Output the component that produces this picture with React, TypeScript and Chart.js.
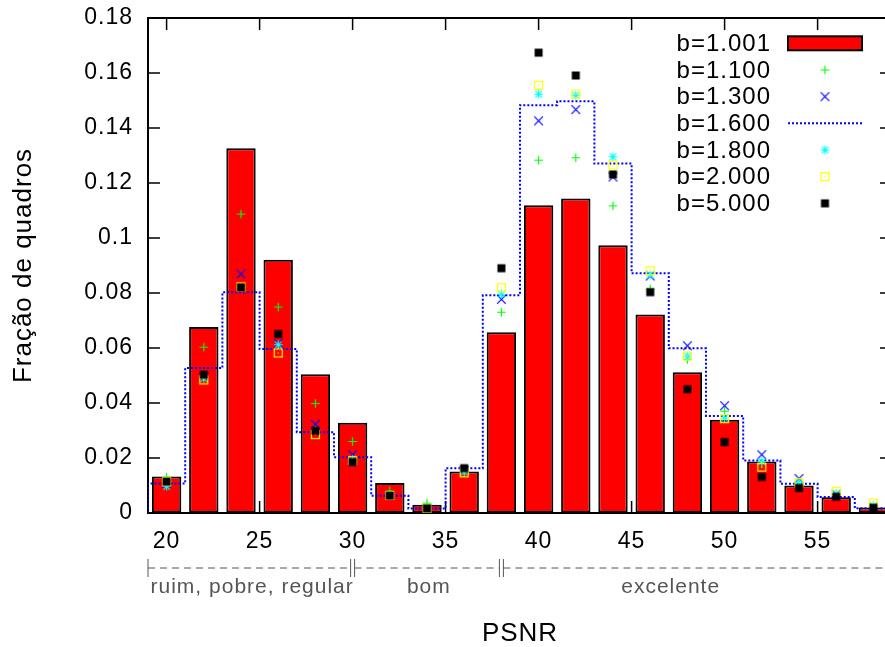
import React, { useEffect, useRef } from "react";
import { Chart, registerables } from "chart.js";

Chart.register(...registerables);

// ---------- data ----------
const psnrBins = [20, 22, 24, 26, 28, 30, 32, 34, 36, 38, 40, 42, 44, 46, 48, 50, 52, 54, 56, 58];
const binHalfWidth = 1;

const b1001 = [0.0133, 0.0676, 0.1326, 0.0921, 0.0505, 0.0328, 0.0109, 0.0030, 0.0151, 0.0657, 0.1119, 0.1144, 0.0974, 0.0722, 0.0512, 0.0339, 0.0187, 0.0100, 0.0057, 0.0020];
const b1100 = [0.0130, 0.0603, 0.1087, 0.0749, 0.0398, 0.0260, 0.0080, 0.0036, 0.0148, 0.0730, 0.1283, 0.1292, 0.1117, 0.0815, 0.0558, 0.0370, 0.0180, 0.0105, 0.0068, 0.0025];
const b1300 = [0.0108, 0.0495, 0.0869, 0.0617, 0.0323, 0.0212, 0.0065, 0.0016, 0.0155, 0.0777, 0.1426, 0.1467, 0.1222, 0.0862, 0.0608, 0.0390, 0.0212, 0.0125, 0.0068, 0.0022];
const b1600 = [0.0107, 0.0527, 0.0803, 0.0596, 0.0294, 0.0203, 0.0063, 0.0016, 0.0163, 0.0792, 0.1483, 0.1497, 0.1271, 0.0872, 0.0599, 0.0353, 0.0191, 0.0106, 0.0058, 0.0017];
const b1800 = [0.0097, 0.0490, 0.0820, 0.0612, 0.0300, 0.0195, 0.0063, 0.0016, 0.0150, 0.0796, 0.1523, 0.1519, 0.1295, 0.0866, 0.0570, 0.0345, 0.0187, 0.0110, 0.0070, 0.0025];
const b2000 = [0.0115, 0.0484, 0.0822, 0.0582, 0.0285, 0.0190, 0.0064, 0.0017, 0.0146, 0.0819, 0.1555, 0.1523, 0.1265, 0.0881, 0.0571, 0.0343, 0.0167, 0.0110, 0.0079, 0.0036];
const b5000 = [0.0114, 0.0503, 0.0820, 0.0651, 0.0299, 0.0185, 0.0063, 0.0017, 0.0163, 0.0890, 0.1674, 0.1591, 0.1231, 0.0803, 0.0450, 0.0258, 0.0131, 0.0091, 0.0059, 0.0019];

const seriesNames = ["b=1.001", "b=1.100", "b=1.300", "b=1.600", "b=1.800", "b=2.000", "b=5.000"];

const xTickValues = [20, 25, 30, 35, 40, 45, 50, 55];
const xTickLabels = ["20", "25", "30", "35", "40", "45", "50", "55"];
const yTickValues = [0, 0.02, 0.04, 0.06, 0.08, 0.1, 0.12, 0.14, 0.16, 0.18];
const yTickLabels = ["0", "0.02", "0.04", "0.06", "0.08", "0.1", "0.12", "0.14", "0.16", "0.18"];

const xTitle = "PSNR";
const yTitle = "Fração de quadros";

const qualityLabels = ["ruim, pobre, regular", "bom", "excelente"];
const qualityBounds = [19, 30, 38, 59];
const qualityLabelCenters = [24.6, 34.1, 47.1];

const X_MIN = 19;
const X_MAX = 59;
const Y_MIN = 0;
const Y_MAX = 0.18;

const FONT = "'Liberation Sans', Arial, Helvetica, sans-serif";

// ---------- markers ----------
function makeMarker(kind: string, color: string): HTMLCanvasElement {
  const c = document.createElement("canvas");
  c.width = 13;
  c.height = 13;
  const g = c.getContext("2d")!;
  const m = 6.5;
  g.strokeStyle = color;
  g.fillStyle = color;
  g.lineWidth = 1.2;
  if (kind === "plus" || kind === "star") {
    const r = 4.3;
    g.beginPath();
    g.moveTo(m - r, m);
    g.lineTo(m + r, m);
    g.moveTo(m, m - r);
    g.lineTo(m, m + r);
    g.stroke();
  }
  if (kind === "cross" || kind === "star") {
    const r = kind === "star" ? 3.3 : 4.3;
    g.beginPath();
    g.moveTo(m - r, m - r);
    g.lineTo(m + r, m + r);
    g.moveTo(m - r, m + r);
    g.lineTo(m + r, m - r);
    g.stroke();
  }
  if (kind === "box") {
    const r = 4;
    g.strokeRect(m - r, m - r, 2 * r, 2 * r);
    g.fillRect(m - 0.6, m - 0.6, 1.2, 1.2);
  }
  if (kind === "fbox") {
    const r = 4;
    g.fillRect(m - r, m - r, 2 * r, 2 * r);
  }
  return c;
}

export default function App() {
  const ref = useRef<HTMLCanvasElement | null>(null);

  useEffect(() => {
    const canvas = ref.current;
    if (!canvas) return;

    const mPlus = makeMarker("plus", "#00ff00");
    const mCross = makeMarker("cross", "#0000ff");
    const mStar = makeMarker("star", "#00ffff");
    const mBox = makeMarker("box", "#ffff00");
    const mFBox = makeMarker("fbox", "#000000");

    const pts = (arr: number[]) => psnrBins.map((x, i) => ({ x, y: arr[i] }));
    const last = psnrBins.length - 1;
    const stepPts = [
      { x: psnrBins[0] - binHalfWidth, y: 0 },
      ...psnrBins.map((c, i) => ({ x: c - binHalfWidth, y: b1600[i] })),
      { x: psnrBins[last] + binHalfWidth, y: b1600[last] },
    ];

    const spacing = {
      id: "spacing",
      beforeLayout(chart: any) {
        chart.ctx.letterSpacing = "1px";
      },
      beforeDraw(chart: any) {
        chart.ctx.letterSpacing = "1px";
      },
    };

    const frame = {
      id: "frame",
      beforeDatasetsDraw(chart: any) {
        const { ctx, chartArea: a, scales } = chart;
        ctx.save();
        ctx.strokeStyle = "#000";
        ctx.lineWidth = 1.5;
        ctx.beginPath();
        for (const v of yTickValues) {
          const y = scales.y.getPixelForValue(v);
          ctx.moveTo(a.left, y);
          ctx.lineTo(a.left + 12, y);
          ctx.moveTo(a.right, y);
          ctx.lineTo(a.right - 12, y);
        }
        for (const v of xTickValues) {
          const x = scales.x.getPixelForValue(v);
          ctx.moveTo(x, a.bottom);
          ctx.lineTo(x, a.bottom - 12);
          ctx.moveTo(x, a.top);
          ctx.lineTo(x, a.top + 12);
        }
        ctx.stroke();
        ctx.lineWidth = 2;
        ctx.strokeRect(a.left, a.top, a.right - a.left, a.bottom - a.top);
        ctx.restore();
      },
    };

    const annotations = {
      id: "annotations",
      afterDraw(chart: any) {
        const { ctx, scales } = chart;
        const xs = scales.x;
        ctx.save();
        // ---- legend ----
        ctx.letterSpacing = "1px";
        ctx.font = `24px ${FONT}`;
        ctx.fillStyle = "#000";
        ctx.textAlign = "right";
        ctx.textBaseline = "middle";
        const rowY0 = 43.3;
        const rowStep = 26.67;
        const sx0 = 788;
        const sx1 = 862;
        const sxc = (sx0 + sx1) / 2;
        const markers: (HTMLCanvasElement | null)[] = [null, mPlus, mCross, null, mStar, mBox, mFBox];
        seriesNames.forEach((name, i) => {
          const y = rowY0 + i * rowStep;
          ctx.fillText(name, 771, y + 1);
          if (i === 0) {
            ctx.fillStyle = "#ff0000";
            ctx.fillRect(sx0, y - 7, sx1 - sx0, 14);
            ctx.strokeStyle = "#000";
            ctx.lineWidth = 2;
            ctx.strokeRect(sx0, y - 7, sx1 - sx0, 14);
            ctx.fillStyle = "#000";
          } else if (i === 3) {
            ctx.save();
            ctx.strokeStyle = "#0000ff";
            ctx.lineWidth = 2;
            ctx.setLineDash([2, 2]);
            ctx.beginPath();
            ctx.moveTo(sx0, y);
            ctx.lineTo(sx1, y);
            ctx.stroke();
            ctx.restore();
          } else {
            const mk = markers[i]!;
            ctx.drawImage(mk, sxc - mk.width / 2, y - mk.height / 2);
          }
        });

        // ---- quality ranges under the axis ----
        const lineY = 568;
        ctx.strokeStyle = "#555";
        ctx.lineWidth = 1;
        for (let i = 0; i < qualityLabels.length; i++) {
          const bx0 = xs.getPixelForValue(qualityBounds[i]) + (i === 0 ? 0 : 2);
          const bx1 = xs.getPixelForValue(qualityBounds[i + 1]) - 2;
          ctx.save();
          ctx.setLineDash([7, 5]);
          ctx.beginPath();
          ctx.moveTo(bx0, lineY);
          ctx.lineTo(bx1, lineY);
          ctx.stroke();
          ctx.restore();
          ctx.beginPath();
          ctx.moveTo(bx0, lineY - 9);
          ctx.lineTo(bx0, lineY + 9);
          ctx.moveTo(bx1, lineY - 9);
          ctx.lineTo(bx1, lineY + 9);
          ctx.stroke();
        }
        ctx.fillStyle = "#555";
        ctx.font = `21px ${FONT}`;
        ctx.textAlign = "center";
        ctx.textBaseline = "alphabetic";
        qualityLabels.forEach((t, i) => {
          ctx.fillText(t, xs.getPixelForValue(qualityLabelCenters[i]), 593);
        });
        ctx.restore();
      },
    };

    const chart = new Chart(canvas, {
      type: "bar",
      data: {
        datasets: [
          {
            type: "bar",
            label: seriesNames[0],
            data: pts(b1001),
            backgroundColor: "#ff0000",
            borderColor: "#000000",
            borderWidth: 2,
            borderSkipped: false,
            barPercentage: 0.79,
            categoryPercentage: 1,
            order: 7,
          } as any,
          {
            type: "scatter",
            label: seriesNames[1],
            data: pts(b1100),
            pointStyle: mPlus,
            pointRadius: 5,
            order: 6,
          } as any,
          {
            type: "scatter",
            label: seriesNames[2],
            data: pts(b1300),
            pointStyle: mCross,
            pointRadius: 5,
            order: 5,
          } as any,
          {
            type: "line",
            label: seriesNames[3],
            data: stepPts,
            stepped: "before",
            borderColor: "#0000ff",
            borderWidth: 2,
            borderDash: [2, 2],
            pointRadius: 0,
            fill: false,
            order: 4,
          } as any,
          {
            type: "scatter",
            label: seriesNames[4],
            data: pts(b1800),
            pointStyle: mStar,
            pointRadius: 5,
            order: 3,
          } as any,
          {
            type: "scatter",
            label: seriesNames[5],
            data: pts(b2000),
            pointStyle: mBox,
            pointRadius: 5,
            order: 2,
          } as any,
          {
            type: "scatter",
            label: seriesNames[6],
            data: pts(b5000),
            pointStyle: mFBox,
            pointRadius: 5,
            order: 1,
          } as any,
        ],
      },
      options: {
        responsive: false,
        animation: false,
        devicePixelRatio: 1,
        events: [],
        layout: { padding: { top: 18, right: 8, bottom: 0, left: 0 } },
        plugins: {
          legend: { display: false },
          tooltip: { enabled: false },
        },
        scales: {
          x: {
            type: "linear",
            min: X_MIN,
            max: X_MAX,
            offset: false,
            grid: { display: false, drawTicks: false },
            border: { display: false },
            ticks: {
              includeBounds: false,
              autoSkip: false,
              maxRotation: 0,
              padding: 15,
              color: "#000",
              font: { family: FONT, size: 23 },
              callback: (_v: any, i: number) => xTickLabels[i],
            },
            title: {
              display: true,
              text: xTitle,
              color: "#000",
              font: { family: FONT, size: 26, lineHeight: 1 },
              padding: { top: 0, bottom: 0 },
            },
            afterBuildTicks: (s: any) => {
              s.ticks = xTickValues.map((v) => ({ value: v }));
            },
            afterFit: (s: any) => {
              s.height = 134;
              s.paddingLeft = 0;
              s.paddingRight = 0;
            },
          },
          y: {
            type: "linear",
            min: Y_MIN,
            max: Y_MAX,
            grid: { display: false, drawTicks: false },
            border: { display: false },
            ticks: {
              includeBounds: false,
              autoSkip: false,
              padding: 15,
              color: "#000",
              font: { family: FONT, size: 23 },
              callback: (_v: any, i: number) => yTickLabels[i],
            },
            title: {
              display: true,
              text: yTitle,
              color: "#000",
              font: { family: FONT, size: 26, lineHeight: 1 },
              padding: { top: 10.5, bottom: 0 },
            },
            afterBuildTicks: (s: any) => {
              s.ticks = yTickValues.map((v) => ({ value: v }));
            },
            afterFit: (s: any) => {
              s.width = 148;
              s.paddingTop = 0;
              s.paddingBottom = 0;
            },
          },
        },
      } as any,
      plugins: [spacing, frame, annotations],
    });

    return () => chart.destroy();
  }, []);

  return (
    <div
      style={{
        position: "fixed",
        left: 0,
        top: 0,
        width: 885,
        height: 647,
        overflow: "hidden",
        background: "#fff",
      }}
    >
      <canvas ref={ref} width={900} height={647} style={{ display: "block", width: 900, height: 647 }} />
    </div>
  );
}
